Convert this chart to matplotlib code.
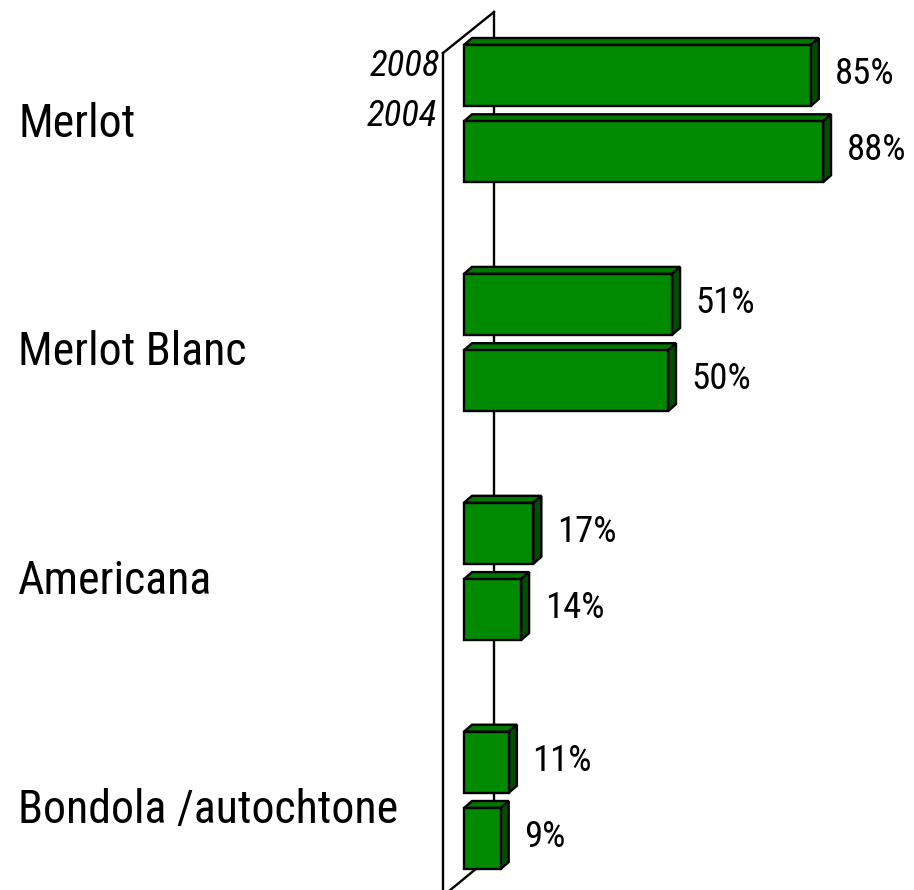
import matplotlib
matplotlib.use("Agg")
import matplotlib.pyplot as plt
from matplotlib.patches import Polygon

# ---- data ----
categories = ["Merlot", "Merlot Blanc", "Americana", "Bondola /autochtone"]
years = ["2008", "2004"]
values_2008 = [85, 51, 17, 11]
values_2004 = [88, 50, 14, 9]

# ---- style ----
FONT = ["Roboto Condensed", "Archivo Narrow", "DejaVu Sans"]
FRONT = "#008a00"
TOP = "#007800"
SIDE = "#004f00"
EDGE = "black"

W, H, DPI = 9.14, 8.90, 100
fig = plt.figure(figsize=(W, H), dpi=DPI)
ax = fig.add_axes([0, 0, 1, 1])

# axis scale: x in percent, y in bar slots (group pitch = 3 slots)
px_per_pct = 4.08
x0_px = 464.0
px_per_slot = 76.3
y0_px = 75.5
ax.set_xlim(-x0_px / px_per_pct, (W * DPI - x0_px) / px_per_pct)
ax.set_ylim((H * DPI - y0_px) / px_per_slot, -y0_px / px_per_slot)
ax.axis("off")

def px2x(p):
    return (p - x0_px) / px_per_pct

def px2y(p):
    return (p - y0_px) / px_per_slot

# 3D depth of the bars (pixels converted to data units)
ddx = 8 / px_per_pct
ddy = -7 / px_per_slot
bar_h = 61 / px_per_slot

# walls
front_x, back_x = px2x(443), px2x(494)
lw = 1.7
ax.plot([front_x, front_x], [px2y(53), px2y(900)], color="black", lw=lw, zorder=1)
ax.plot([front_x, back_x], [px2y(53), px2y(12)], color="black", lw=lw, zorder=1)
ax.plot([back_x, back_x], [px2y(12), px2y(854)], color="black", lw=lw, zorder=1)
ax.plot([front_x, back_x], [px2y(896), px2y(854)], color="black", lw=lw, zorder=1)

def bar3d(yc, v):
    top = yc - bar_h / 2
    bot = yc + bar_h / 2
    kw = dict(closed=True, edgecolor=EDGE, lw=1.7, zorder=3, joinstyle="miter")
    front = Polygon([(0, top), (v, top), (v, bot), (0, bot)], facecolor=FRONT, **kw)
    topf = Polygon([(0, top), (ddx, top + ddy), (v + ddx, top + ddy), (v, top)], facecolor=TOP, **kw)
    side = Polygon([(v, top), (v + ddx, top + ddy), (v + ddx, bot + ddy), (v, bot)], facecolor=SIDE, **kw)
    for p in (topf, side, front):
        ax.add_patch(p)
    ax.annotate(f"{v}%", xy=(v, yc), xytext=(17, 1), textcoords="offset points",
                ha="left", va="center", fontsize=26.5, family=FONT, zorder=4)

for i, cat in enumerate(categories):
    for j, vals in enumerate([values_2008, values_2004]):
        yc = 3 * i + j
        bar3d(yc, vals[i])
    ax.text(px2x(18), 3 * i + 0.5 + 0.13, cat, ha="left", va="center",
            fontsize=33, family=FONT, zorder=4)

# year labels
ax.text(px2x(440), px2y(66), years[0], ha="right", va="center",
        fontsize=26.5, style="italic", family=FONT, zorder=4)
ax.text(px2x(437), px2y(116), years[1], ha="right", va="center",
        fontsize=26.5, style="italic", family=FONT, zorder=4)

fig.savefig("out.png", dpi=DPI)
